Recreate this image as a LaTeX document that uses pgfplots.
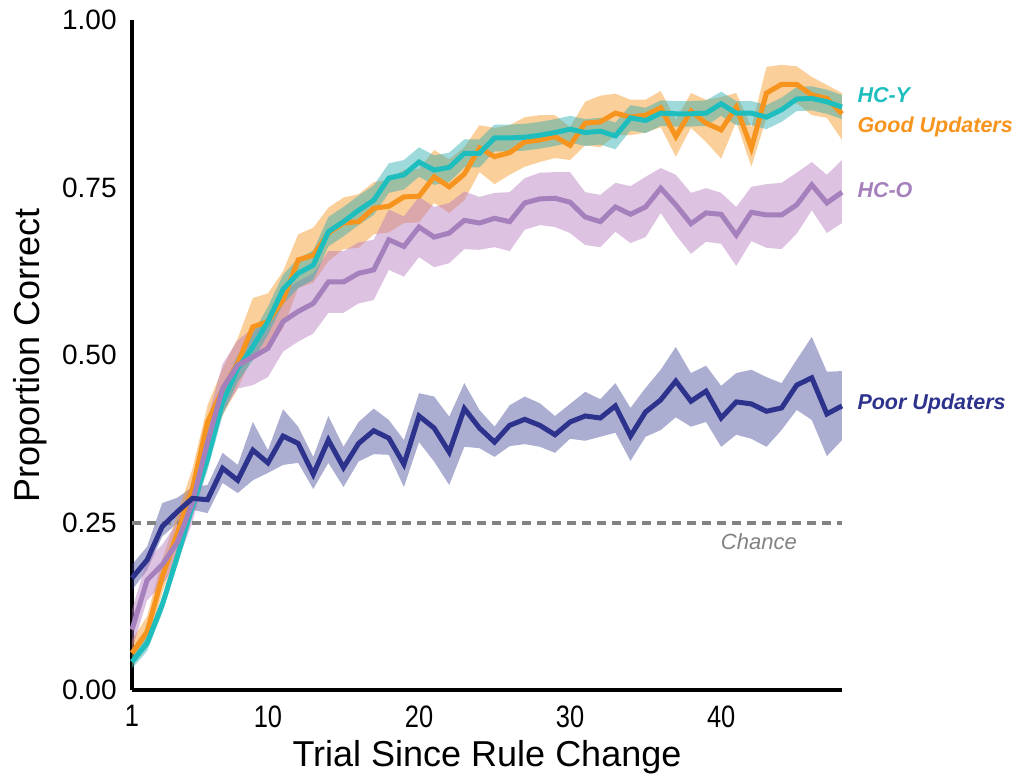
\documentclass[border=0pt]{standalone}
\usepackage{fontspec}
\setmainfont{Liberation Sans}
\newfontfamily\narrowfont[FakeStretch=0.82]{Liberation Sans}
\usepackage{pgfplots}
\pgfplotsset{compat=1.18}
\usepackage{pgfplotstable}
\usepgfplotslibrary{fillbetween}

\definecolor{tealC}{RGB}{30,190,190}
\definecolor{tealB}{RGB}{40,170,175}
\definecolor{orangeC}{RGB}{247,148,30}
\definecolor{hcoC}{RGB}{165,128,188}
\definecolor{hcoB}{RGB}{180,120,190}
\definecolor{navyC}{RGB}{45,50,140}
\definecolor{chanceC}{RGB}{130,130,130}

\pgfplotstableread{
x m lo hi
1 0.042 0.032 0.052
2 0.070 0.058 0.082
3 0.127 0.115 0.139
4 0.199 0.186 0.212
5 0.275 0.260 0.290
6 0.345 0.328 0.362
7 0.430 0.410 0.450
8 0.480 0.460 0.500
9 0.512 0.492 0.532
10 0.550 0.530 0.572
11 0.598 0.576 0.620
12 0.622 0.600 0.644
13 0.634 0.612 0.656
14 0.684 0.662 0.706
15 0.699 0.677 0.721
16 0.716 0.694 0.738
17 0.731 0.709 0.753
18 0.764 0.742 0.786
19 0.769 0.747 0.791
20 0.788 0.766 0.810
21 0.776 0.754 0.798
22 0.780 0.758 0.802
23 0.801 0.780 0.822
24 0.801 0.780 0.822
25 0.824 0.804 0.844
26 0.824 0.804 0.844
27 0.825 0.805 0.845
28 0.828 0.808 0.848
29 0.832 0.812 0.852
30 0.837 0.817 0.857
31 0.832 0.812 0.852
32 0.834 0.814 0.854
33 0.827 0.807 0.847
34 0.854 0.835 0.873
35 0.850 0.831 0.869
36 0.861 0.842 0.880
37 0.860 0.841 0.879
38 0.860 0.841 0.879
39 0.861 0.842 0.880
40 0.875 0.857 0.893
41 0.861 0.843 0.879
42 0.861 0.843 0.879
43 0.855 0.837 0.873
44 0.866 0.848 0.884
45 0.882 0.864 0.900
46 0.883 0.865 0.901
47 0.878 0.860 0.896
48 0.870 0.852 0.888
}\hcy

\pgfplotstableread{
x m lo hi
1 0.055 0.035 0.075
2 0.087 0.065 0.110
3 0.169 0.145 0.195
4 0.234 0.207 0.262
5 0.300 0.270 0.330
6 0.400 0.365 0.425
7 0.448 0.410 0.480
8 0.488 0.450 0.525
9 0.542 0.500 0.585
10 0.550 0.508 0.592
11 0.582 0.540 0.625
12 0.642 0.600 0.680
13 0.649 0.608 0.690
14 0.682 0.640 0.720
15 0.697 0.658 0.735
16 0.699 0.660 0.740
17 0.719 0.680 0.758
18 0.722 0.683 0.762
19 0.736 0.697 0.776
20 0.737 0.698 0.778
21 0.766 0.727 0.806
22 0.751 0.712 0.792
23 0.770 0.731 0.810
24 0.809 0.773 0.843
25 0.796 0.755 0.839
26 0.802 0.769 0.843
27 0.818 0.781 0.855
28 0.821 0.788 0.858
29 0.826 0.794 0.858
30 0.813 0.791 0.840
31 0.846 0.813 0.878
32 0.848 0.810 0.887
33 0.861 0.828 0.890
34 0.855 0.828 0.881
35 0.858 0.832 0.881
36 0.869 0.840 0.894
37 0.826 0.796 0.851
38 0.864 0.839 0.891
39 0.846 0.818 0.881
40 0.836 0.793 0.885
41 0.870 0.848 0.891
42 0.809 0.781 0.840
43 0.891 0.854 0.930
44 0.904 0.870 0.933
45 0.904 0.876 0.931
46 0.888 0.858 0.915
47 0.883 0.854 0.903
48 0.860 0.821 0.891
}\good

\pgfplotstableread{
x m lo hi
1 0.090 0.060 0.120
2 0.164 0.134 0.194
3 0.187 0.157 0.217
4 0.220 0.190 0.250
5 0.280 0.250 0.312
6 0.370 0.335 0.405
7 0.450 0.415 0.487
8 0.485 0.450 0.522
9 0.497 0.455 0.540
10 0.510 0.467 0.555
11 0.550 0.505 0.595
12 0.565 0.520 0.610
13 0.577 0.532 0.622
14 0.609 0.563 0.655
15 0.609 0.563 0.655
16 0.622 0.577 0.668
17 0.627 0.582 0.672
18 0.672 0.627 0.717
19 0.662 0.617 0.707
20 0.691 0.646 0.736
21 0.676 0.631 0.721
22 0.682 0.637 0.727
23 0.701 0.658 0.744
24 0.697 0.657 0.736
25 0.704 0.661 0.742
26 0.699 0.655 0.743
27 0.727 0.687 0.764
28 0.733 0.694 0.772
29 0.734 0.691 0.773
30 0.728 0.682 0.773
31 0.706 0.664 0.743
32 0.699 0.661 0.739
33 0.721 0.684 0.757
34 0.710 0.667 0.752
35 0.721 0.676 0.766
36 0.749 0.712 0.779
37 0.724 0.679 0.769
38 0.696 0.651 0.742
39 0.712 0.669 0.749
40 0.710 0.666 0.742
41 0.679 0.633 0.721
42 0.713 0.670 0.751
43 0.709 0.660 0.755
44 0.709 0.658 0.757
45 0.724 0.681 0.772
46 0.754 0.716 0.788
47 0.727 0.682 0.769
48 0.743 0.697 0.791
}\hco

\pgfplotstableread{
x m lo hi
1 0.167 0.149 0.187
2 0.194 0.179 0.214
3 0.244 0.229 0.279
4 0.266 0.249 0.287
5 0.286 0.269 0.303
6 0.284 0.264 0.306
7 0.331 0.309 0.354
8 0.313 0.294 0.336
9 0.358 0.313 0.400
10 0.339 0.324 0.358
11 0.379 0.336 0.419
12 0.368 0.339 0.393
13 0.322 0.300 0.348
14 0.373 0.339 0.409
15 0.332 0.303 0.363
16 0.368 0.341 0.400
17 0.387 0.352 0.420
18 0.376 0.351 0.403
19 0.337 0.303 0.373
20 0.409 0.370 0.443
21 0.391 0.341 0.438
22 0.355 0.306 0.408
23 0.420 0.363 0.458
24 0.391 0.361 0.418
25 0.370 0.348 0.393
26 0.395 0.364 0.425
27 0.404 0.367 0.438
28 0.395 0.363 0.428
29 0.381 0.354 0.409
30 0.400 0.375 0.427
31 0.409 0.372 0.445
32 0.406 0.378 0.434
33 0.424 0.384 0.458
34 0.379 0.342 0.421
35 0.415 0.378 0.451
36 0.433 0.388 0.478
37 0.461 0.407 0.512
38 0.431 0.393 0.473
39 0.446 0.400 0.484
40 0.406 0.363 0.454
41 0.430 0.381 0.473
42 0.427 0.375 0.478
43 0.416 0.363 0.467
44 0.421 0.388 0.458
45 0.455 0.418 0.493
46 0.466 0.403 0.527
47 0.412 0.349 0.475
48 0.424 0.373 0.476
}\poor

\begin{document}
\begin{tikzpicture}
\begin{axis}[
  at={(0,0)}, anchor=south west,
  width=355pt, height=335pt, scale only axis,
  xmin=1, xmax=48, ymin=0, ymax=1,
  axis x line*=bottom, axis y line*=left,
  axis line style={line width=2.1pt, -},
  xtick={1,10,20,30,40}, xticklabels={1,10,20,30,40},
  ytick={0,0.25,0.5,0.75,1}, yticklabels={0.00,0.25,0.50,0.75,1.00},
  major tick length=0pt,
  y tick label style={font=\fontsize{14}{16}\selectfont, inner sep=0pt, xshift=-7.5pt},
  x tick label style={font=\narrowfont\fontsize{15.5}{18}\selectfont, inner sep=0pt, yshift=-7.5pt},
  xlabel={Trial Since Rule Change}, ylabel={Proportion Correct},
  label style={font=\fontsize{18}{21}\selectfont},
  xlabel style={at={(axis description cs:0.5,-0.1)}, anchor=center},
  ylabel style={at={(axis description cs:-0.144,0.5)}, anchor=center},
  clip=false,
]
% bands
\addplot[draw=none, name path=pu, forget plot] table[x=x,y=hi]{\poor};
\addplot[draw=none, name path=pl, forget plot] table[x=x,y=lo]{\poor};
\addplot[navyC, fill opacity=0.4, draw=none] fill between[of=pu and pl];
\addplot[draw=none, name path=gu, forget plot] table[x=x,y=hi]{\good};
\addplot[draw=none, name path=gl, forget plot] table[x=x,y=lo]{\good};
\addplot[orangeC, fill opacity=0.45, draw=none] fill between[of=gu and gl];
\addplot[draw=none, name path=ou, forget plot] table[x=x,y=hi]{\hco};
\addplot[draw=none, name path=ol, forget plot] table[x=x,y=lo]{\hco};
\addplot[hcoB, fill opacity=0.45, draw=none] fill between[of=ou and ol];
\addplot[draw=none, name path=yu, forget plot] table[x=x,y=hi]{\hcy};
\addplot[draw=none, name path=yl, forget plot] table[x=x,y=lo]{\hcy};
\addplot[tealB, fill opacity=0.45, draw=none] fill between[of=yu and yl];
% chance
\addplot[chanceC, line width=2pt, dash pattern=on 4.5pt off 3pt] coordinates {(1,0.25) (48,0.25)};
% lines
\addplot[orangeC, line width=2.5pt] table[x=x,y=m]{\good};
\addplot[tealC, line width=2.5pt] table[x=x,y=m]{\hcy};
\addplot[hcoC, line width=2.5pt] table[x=x,y=m]{\hco};
\addplot[navyC, line width=2.5pt] table[x=x,y=m]{\poor};
% labels
\node[anchor=west, inner sep=0pt, text=tealC, font=\bfseries\itshape\fontsize{10.75}{13}\selectfont] at (axis cs:49,0.888) {HC-Y};
\node[anchor=west, inner sep=0pt, text=orangeC, font=\bfseries\itshape\fontsize{10.75}{13}\selectfont] at (axis cs:49,0.840) {Good Updaters};
\node[anchor=west, inner sep=0pt, text=hcoC, font=\bfseries\itshape\fontsize{10.75}{13}\selectfont] at (axis cs:49,0.746) {HC-O};
\node[anchor=west, inner sep=0pt, text=navyC, font=\bfseries\itshape\fontsize{10.75}{13}\selectfont] at (axis cs:49,0.427) {Poor Updaters};
\node[inner sep=0pt, text=chanceC, font=\itshape\fontsize{11}{13}\selectfont] at (axis cs:42.5,0.222) {Chance};
\end{axis}
\pgfresetboundingbox
\path[use as bounding box] (-66pt,-44pt) rectangle (443pt,345pt);
\end{tikzpicture}
\end{document}
